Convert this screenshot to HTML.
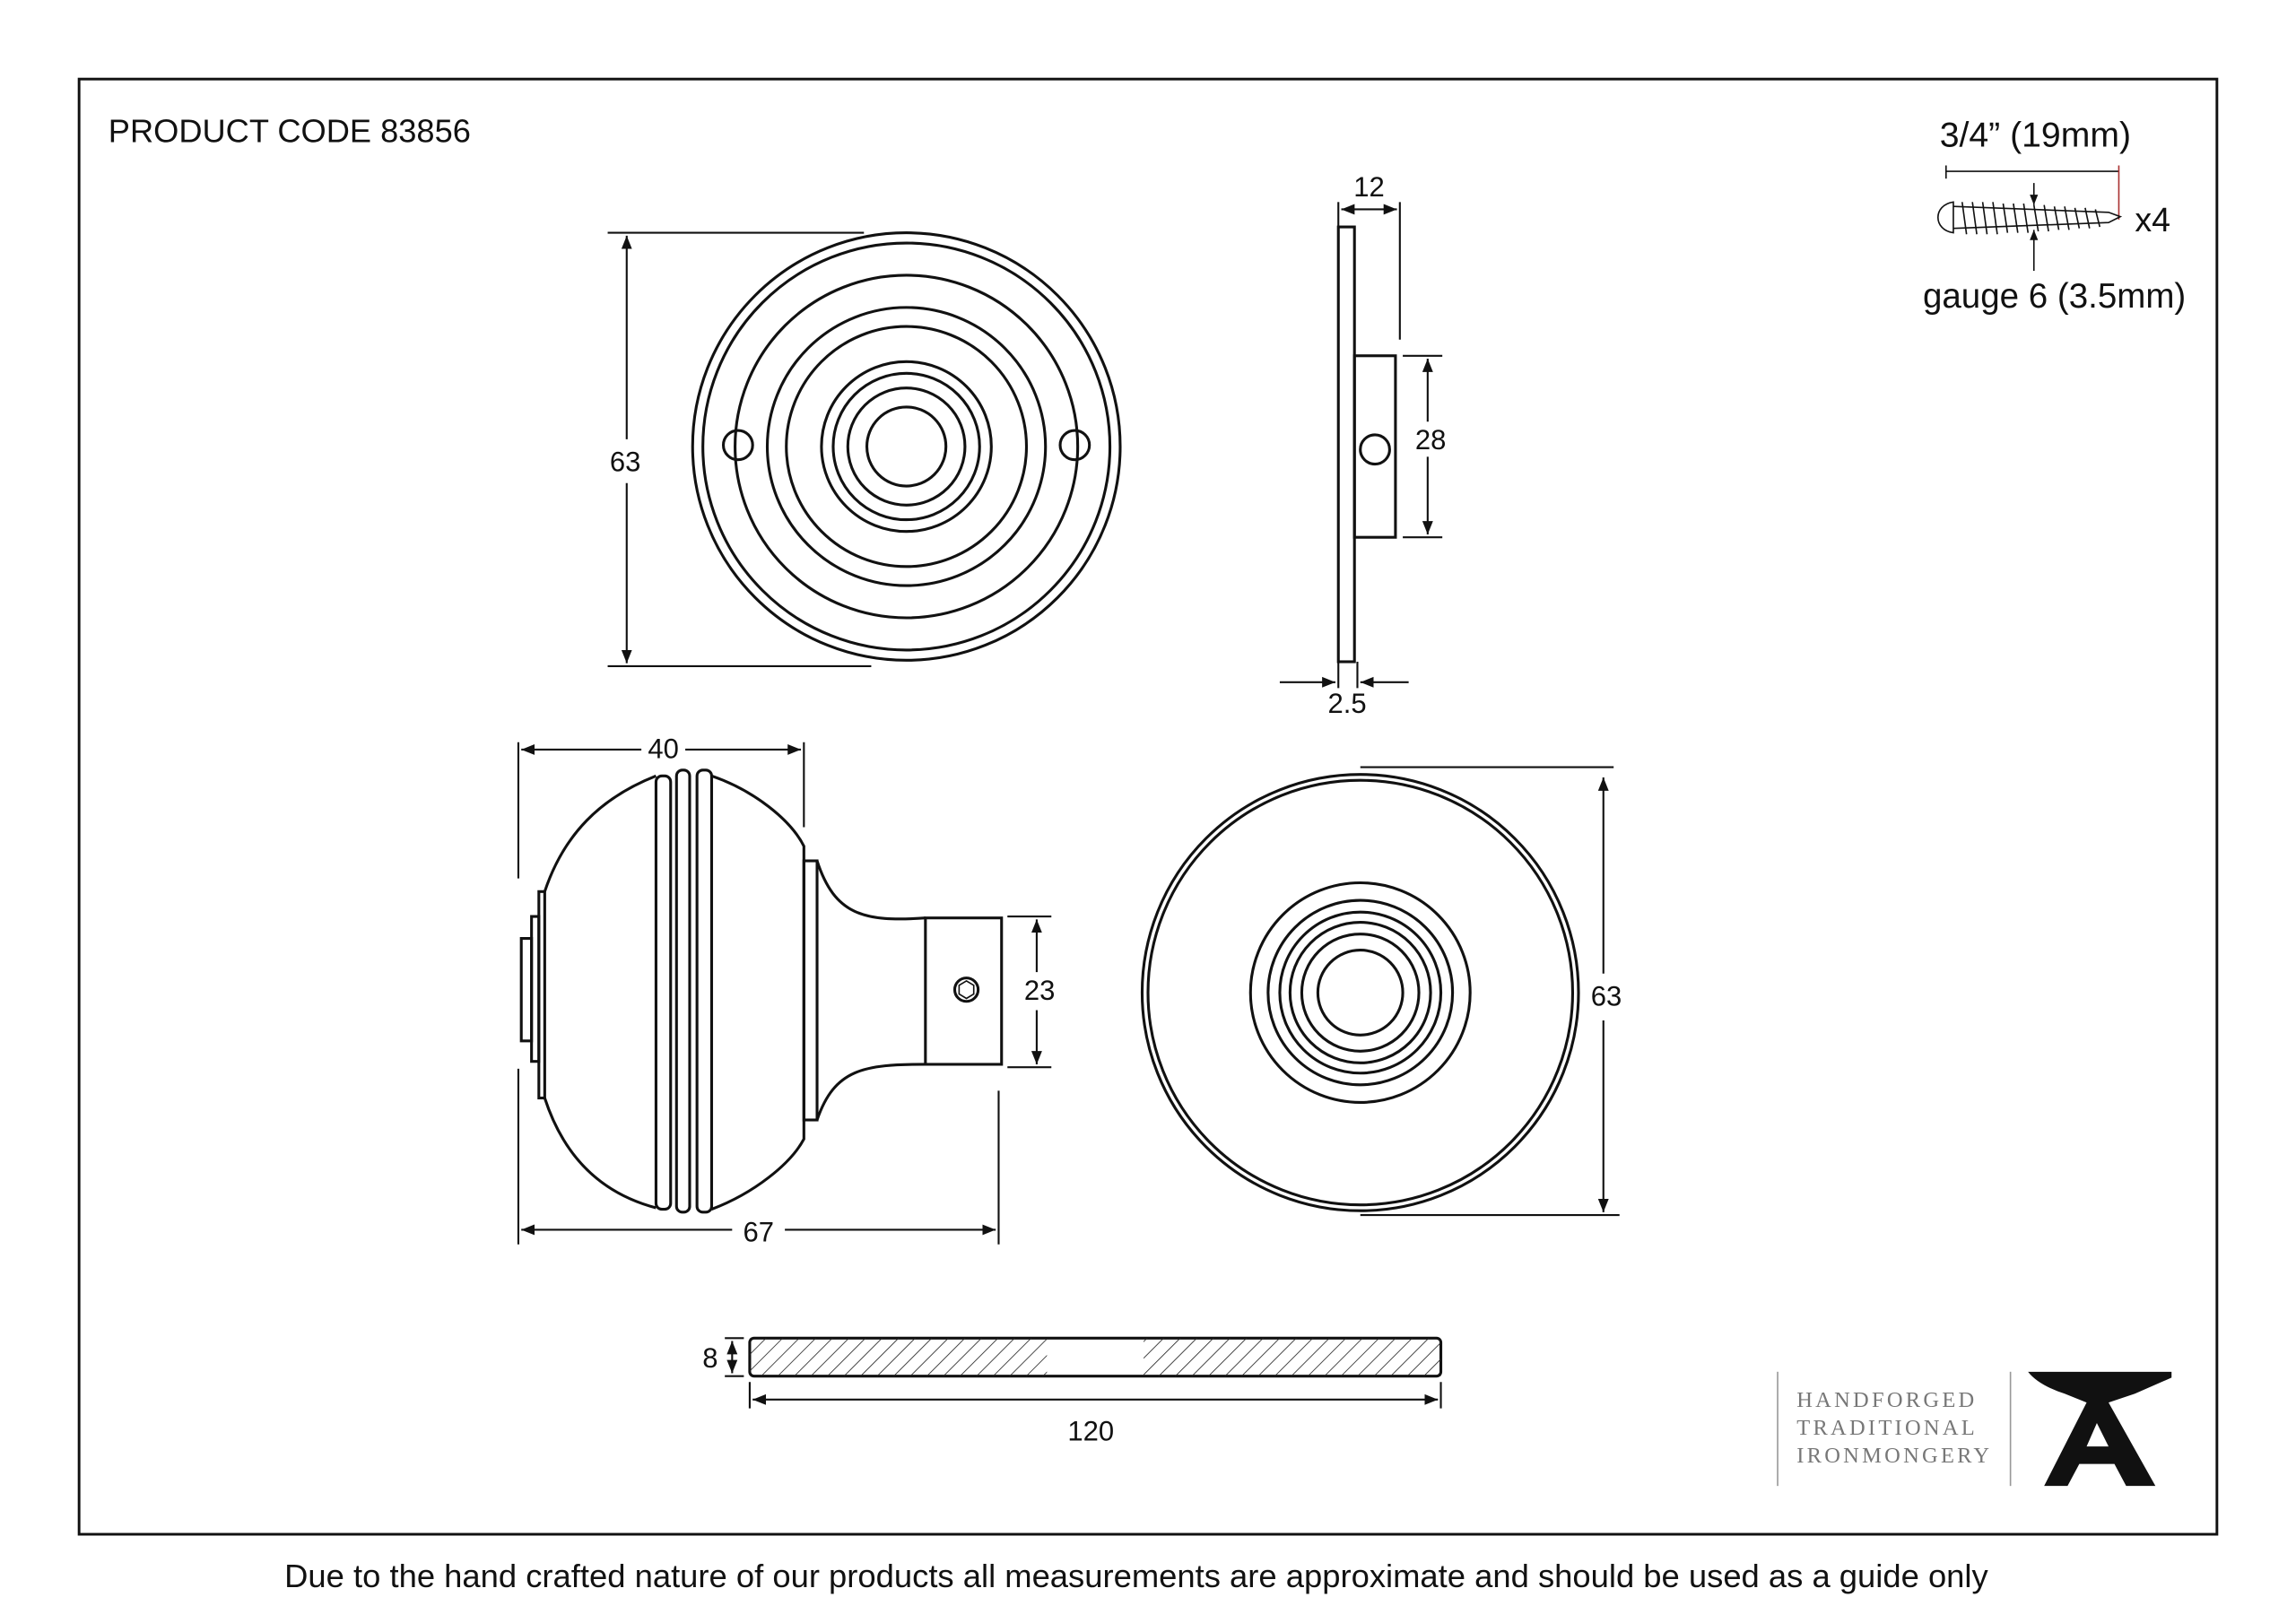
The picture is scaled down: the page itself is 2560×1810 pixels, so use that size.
<!DOCTYPE html>
<html><head><meta charset="utf-8"><style>
html,body{margin:0;padding:0;background:#fff}
svg{display:block}
text{font-family:"Liberation Sans",sans-serif;fill:#111}
</style></head><body>
<svg width="2560" height="1810" viewBox="0 0 1568 1108.6" xmlns="http://www.w3.org/2000/svg">
<defs>
<marker id="a" viewBox="0 0 10 10" refX="10" refY="5" markerWidth="7" markerHeight="7" orient="auto-start-reverse"><path d="M0,1 L10,5 L0,9 z" fill="#111"/></marker>
<pattern id="h" width="8" height="8" patternUnits="userSpaceOnUse" patternTransform="rotate(45)"><line x1="0" y1="0" x2="0" y2="8" stroke="#222" stroke-width="1"/></pattern>
</defs>
<rect width="1568" height="1109" fill="#fff"/>
<rect x="54" y="54" width="1460" height="994" fill="none" stroke="#111" stroke-width="1.8"/>
<text x="74" y="97" font-size="22.2">PRODUCT CODE 83856</text>
<text x="776" y="1084" font-size="22.3" text-anchor="middle">Due to the hand crafted nature of our products all measurements are approximate and should be used as a guide only</text>

<g fill="none" stroke="#111" stroke-width="1.9">
<circle cx="619" cy="305" r="146"/><circle cx="619" cy="305" r="139"/>
<circle cx="619" cy="305" r="117"/><circle cx="619" cy="305" r="95"/>
<circle cx="619" cy="305" r="82"/><circle cx="619" cy="305" r="58"/>
<circle cx="619" cy="305" r="50"/><circle cx="619" cy="305" r="40"/>
<circle cx="619" cy="305" r="27"/>
<circle cx="504" cy="304" r="10"/><circle cx="734" cy="304" r="10"/>
<g stroke-width="1.3">
<line x1="415" y1="159" x2="590" y2="159"/><line x1="415" y1="455" x2="595" y2="455"/>
<line x1="428" y1="161" x2="428" y2="300" marker-start="url(#a)"/>
<line x1="428" y1="330" x2="428" y2="453" marker-end="url(#a)"/>
</g>

<rect x="914" y="155" width="11" height="297"/>
<rect x="925" y="243" width="28" height="124"/>
<circle cx="939" cy="307" r="10"/>
<g stroke-width="1.3">
<line x1="914" y1="138" x2="914" y2="155"/><line x1="956" y1="138" x2="956" y2="232"/>
<line x1="916" y1="143" x2="954" y2="143" marker-start="url(#a)" marker-end="url(#a)"/>
<line x1="958" y1="243" x2="985" y2="243"/><line x1="958" y1="367" x2="985" y2="367"/>
<line x1="975" y1="245" x2="975" y2="288" marker-start="url(#a)"/>
<line x1="975" y1="312" x2="975" y2="365" marker-end="url(#a)"/>
<line x1="914" y1="452" x2="914" y2="470"/><line x1="927" y1="452" x2="927" y2="470"/>
<line x1="874" y1="466" x2="912" y2="466" marker-end="url(#a)"/>
<line x1="962" y1="466" x2="929" y2="466" marker-end="url(#a)"/>
</g>

<rect x="356" y="641" width="7" height="70"/>
<rect x="363" y="626" width="5" height="99"/>
<rect x="368" y="609" width="4" height="141"/>
<path d="M372,609 C385,570 410,545 448,530"/>
<path d="M372,750 C385,790 410,815 448,825"/>
<rect x="448" y="530" width="10" height="296" rx="4"/>
<rect x="462" y="526" width="9" height="302" rx="4"/>
<rect x="476" y="526" width="10" height="302" rx="4"/>
<path d="M486,530 C515,540 540,560 549,578 L549,778 C540,795 515,815 486,826"/>
<rect x="549" y="588" width="9" height="177"/>
<path d="M558,588 C570,625 590,630 632,627"/>
<path d="M558,765 C570,730 590,727 632,727"/>
<rect x="632" y="627" width="52" height="100"/>
<circle cx="660" cy="676" r="8"/>
<polygon points="660,670 665,673 665,679 660,682 655,679 655,673" stroke-width="1"/>
<g stroke-width="1.3">
<line x1="354" y1="507" x2="354" y2="600"/><line x1="549" y1="507" x2="549" y2="565"/>
<line x1="356" y1="512" x2="438" y2="512" marker-start="url(#a)"/>
<line x1="468" y1="512" x2="547" y2="512" marker-end="url(#a)"/>
<line x1="354" y1="730" x2="354" y2="850"/><line x1="682" y1="745" x2="682" y2="850"/>
<line x1="356" y1="840" x2="500" y2="840" marker-start="url(#a)"/>
<line x1="536" y1="840" x2="680" y2="840" marker-end="url(#a)"/>
<line x1="688" y1="626" x2="718" y2="626"/><line x1="688" y1="729" x2="718" y2="729"/>
<line x1="708" y1="628" x2="708" y2="664" marker-start="url(#a)"/>
<line x1="708" y1="690" x2="708" y2="727" marker-end="url(#a)"/>
</g>

<circle cx="929" cy="678" r="149"/><circle cx="929" cy="678" r="145"/>
<circle cx="929" cy="678" r="75"/><circle cx="929" cy="678" r="63"/>
<circle cx="929" cy="678" r="55"/><circle cx="929" cy="678" r="48"/>
<circle cx="929" cy="678" r="40"/><circle cx="929" cy="678" r="29"/>
<g stroke-width="1.3">
<line x1="929" y1="524" x2="1102" y2="524"/><line x1="929" y1="830" x2="1106" y2="830"/>
<line x1="1095" y1="531" x2="1095" y2="665" marker-start="url(#a)"/>
<line x1="1095" y1="697" x2="1095" y2="828" marker-end="url(#a)"/>
</g>

<rect x="512" y="914" width="472" height="26" rx="3"/>
<rect x="512" y="914" width="203" height="26" fill="url(#h)" stroke="none"/>
<rect x="781" y="914" width="203" height="26" fill="url(#h)" stroke="none"/>
<g stroke-width="1.3">
<line x1="495" y1="914" x2="508" y2="914"/><line x1="495" y1="940" x2="508" y2="940"/>
<line x1="500" y1="916" x2="500" y2="938" marker-start="url(#a)" marker-end="url(#a)"/>
<line x1="512" y1="944" x2="512" y2="962"/><line x1="984" y1="944" x2="984" y2="962"/>
<line x1="514" y1="956" x2="982" y2="956" marker-start="url(#a)" marker-end="url(#a)"/>
</g>

<g stroke-width="1">
<line x1="1329" y1="117" x2="1447" y2="117"/><line x1="1329" y1="113" x2="1329" y2="122"/>
<line x1="1447" y1="113" x2="1447" y2="150" stroke="#a33"/>
<path d="M1334,138 C1320,140 1320,157 1334,159 Z"/>
<path d="M1334,141 L1440,145 L1448,148 L1440,152 L1334,156"/>
<path d="M1340,138 l3,22 M1347,138 l3,22 M1354,138 l3,22 M1361,138 l3,22 M1368,139 l3,20 M1375,139 l3,20 M1382,139 l3,20 M1389,140 l3,18 M1396,140 l3,18 M1403,141 l3,16 M1410,141 l3,16 M1417,142 l3,14 M1424,142 l3,14 M1431,143 l3,12"/>
<line x1="1389" y1="125" x2="1389" y2="140" marker-end="url(#a)"/>
<line x1="1389" y1="185" x2="1389" y2="157" marker-end="url(#a)"/>
</g>
</g>

<g font-size="19" text-anchor="middle">
<text x="427" y="322">63</text>
<text x="935" y="134">12</text>
<text x="977" y="307">28</text>
<text x="920" y="487">2.5</text>
<text x="453" y="518">40</text>
<text x="518" y="848">67</text>
<text x="710" y="683">23</text>
<text x="1097" y="687">63</text>
<text x="485" y="934">8</text>
<text x="745" y="984">120</text>
</g>
<text x="1390" y="100" font-size="24" text-anchor="middle">3/4” (19mm)</text>
<text x="1458" y="158" font-size="23">x4</text>
<text x="1403" y="210" font-size="23.6" text-anchor="middle">gauge 6 (3.5mm)</text>

<line x1="1214" y1="937" x2="1214" y2="1015" stroke="#999" stroke-width="1"/>
<line x1="1373" y1="937" x2="1373" y2="1015" stroke="#999" stroke-width="1"/>
<g font-size="15" letter-spacing="2">
<text x="1227" y="961" style="fill:#777;font-family:'Liberation Serif',serif">HANDFORGED</text>
<text x="1227" y="980" style="fill:#777;font-family:'Liberation Serif',serif">TRADITIONAL</text>
<text x="1227" y="999" style="fill:#777;font-family:'Liberation Serif',serif">IRONMONGERY</text>
</g>
<path d="M1385,937 L1483,937 L1483,941 L1458,952 L1440,958 L1472,1015 L1452,1015 L1444,1000 L1420,1000 L1412,1015 L1396,1015 L1425,958 L1410,952 Q1392,946 1385,937 Z M1425,988 L1440,988 L1432,972 Z" fill="#111" fill-rule="evenodd"/>
</svg>
</body></html>
